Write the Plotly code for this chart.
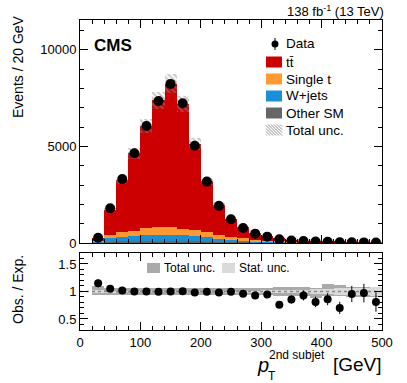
import numpy as np
import plotly.graph_objects as go

# bins of 20 GeV, 20-500
bin_centers = [30, 50, 70, 90, 110, 130, 150, 170, 190, 210, 230, 250,
               270, 290, 310, 330, 350, 370, 390, 410, 430, 450, 470, 490]

data_counts = [270, 1800, 3310, 4650, 6060, 7350, 8240, 7240, 5040, 3180, 1925, 1235,
               775, 485, 330, 190, 130, 104, 73, 62, 40, 42, 33, 21]

other_sm = [15, 60, 80, 90, 100, 110, 110, 100, 90, 80, 60, 45,
            35, 25, 20, 15, 10, 8, 6, 5, 4, 3, 2, 2]
wjets = [55, 185, 231, 273, 299, 325, 325, 299, 273, 231, 168, 131,
         105, 79, 55, 40, 30, 22, 18, 15, 12, 9, 7, 5]
single_t = [40, 155, 259, 259, 363, 394, 394, 347, 295, 243, 187, 135,
            103, 76, 55, 40, 30, 22, 18, 14, 11, 9, 7, 5]
ttbar = [125, 1314, 2675, 4028, 5298, 6558, 7411, 6458, 4485, 2642, 1549, 930,
         564, 342, 219, 155, 82, 60, 48, 38, 30, 23, 18, 14]

# relative uncertainties on the expectation
tot_unc_up = [0.10, 0.07, 0.06, 0.06, 0.06, 0.06, 0.06, 0.06, 0.06, 0.06, 0.06, 0.06,
              0.07, 0.07, 0.07, 0.08, 0.08, 0.08, 0.07, 0.14, 0.11, 0.09, 0.09, 0.09]
tot_unc_dn = [0.07, 0.06, 0.06, 0.06, 0.06, 0.06, 0.06, 0.06, 0.06, 0.06, 0.06, 0.06,
              0.06, 0.07, 0.07, 0.08, 0.08, 0.08, 0.12, 0.09, 0.09, 0.10, 0.10, 0.10]
stat_unc = [0.02, 0.01, 0.005, 0.005, 0.005, 0.005, 0.005, 0.005, 0.005, 0.005, 0.008, 0.01,
            0.012, 0.015, 0.02, 0.025, 0.03, 0.035, 0.04, 0.05, 0.06, 0.07, 0.07, 0.08]

W, H = 407, 383
L, R, T, B = 80, 25, 20, 53
FONT = "Liberation Sans, Arial, sans-serif"

C_TT, C_ST, C_WJ, C_OT = "#cc0000", "#ff9a33", "#1b8fd6", "#666666"
C_TOT, C_STAT, C_HATCH = "#aaaaaa", "#dadada", "#8c8c8c"


def px(x):
    return (x - L) / (W - L - R)


def py(y):
    return 1 - (y - T) / (H - T - B)


x = np.array(bin_centers, dtype=float)
d = np.array(data_counts, dtype=float)
o = np.array(other_sm, dtype=float)
wj = np.array(wjets, dtype=float)
st = np.array(single_t, dtype=float)
tt = np.array(ttbar, dtype=float)
mc = o + wj + st + tt
up = np.array(tot_unc_up)
dn = np.array(tot_unc_dn)
sst = np.array(stat_unc)

fig = go.Figure()

# stacked expectation (explicit bases, overlay mode)
base = np.zeros_like(mc)
for vals, col in [(o, C_OT), (wj, C_WJ), (st, C_ST), (tt, C_TT)]:
    fig.add_trace(go.Bar(x=x, y=vals, base=base.copy(), width=20, showlegend=False,
                         marker=dict(color=col, line=dict(width=0)),
                         xaxis="x", yaxis="y"))
    base = base + vals

fig.add_trace(go.Bar(x=x, y=mc * (up + dn), base=mc * (1 - dn), width=20,
                     showlegend=False, xaxis="x", yaxis="y",
                     marker=dict(color="rgba(0,0,0,0)", line=dict(width=0),
                                 pattern=dict(shape="\\", fgcolor=C_HATCH,
                                              bgcolor="rgba(0,0,0,0)",
                                              size=4, solidity=0.5))))
fig.add_trace(go.Scatter(x=x, y=d, mode="markers", showlegend=False,
                         marker=dict(color="black", size=10),
                         error_y=dict(type="data", array=np.sqrt(d), color="black",
                                      thickness=1, width=0),
                         xaxis="x", yaxis="y"))

# ratio panel
ratio = d / mc
ratio_err = np.sqrt(d) / mc
fig.add_trace(go.Bar(x=x, y=up + dn, base=1 - dn, width=20, showlegend=False,
                     marker=dict(color=C_TOT, line=dict(width=0)),
                     xaxis="x2", yaxis="y2"))
fig.add_trace(go.Bar(x=x, y=2 * sst, base=1 - sst, width=20, showlegend=False,
                     marker=dict(color=C_STAT, line=dict(width=0)),
                     xaxis="x2", yaxis="y2"))
fig.add_trace(go.Scatter(x=[0, 500], y=[1, 1], mode="lines", showlegend=False,
                         line=dict(color="#888888", width=1.5, dash="dot"),
                         xaxis="x2", yaxis="y2"))
fig.add_trace(go.Scatter(x=x, y=ratio, mode="markers", showlegend=False,
                         marker=dict(color="black", size=8),
                         error_y=dict(type="data", array=ratio_err, color="black",
                                      thickness=1, width=0),
                         xaxis="x2", yaxis="y2"))

ax = dict(showline=True, linecolor="black", linewidth=1, mirror="allticks",
          ticks="inside", ticklen=8, tickcolor="black", showgrid=False, zeroline=False,
          tickfont=dict(size=13, color="black"),
          minor=dict(ticks="inside", ticklen=4, tickcolor="black", showgrid=False))

fig.update_layout(
    width=W, height=H, margin=dict(l=L, r=R, t=T, b=B),
    paper_bgcolor="white", plot_bgcolor="white",
    font=dict(family=FONT, color="black"),
    barmode="overlay", bargap=0, showlegend=False,
    xaxis=dict(ax, range=[0, 500], dtick=100, minor=dict(ax["minor"], dtick=20),
               showticklabels=False, anchor="y", matches="x2"),
    yaxis=dict(ax, range=[0, 11550], domain=[0.2806, 1], tickvals=[0, 5000, 10000],
               tickformat="d", minor=dict(ax["minor"], dtick=1000), anchor="x"),
    xaxis2=dict(ax, range=[0, 500], dtick=100, minor=dict(ax["minor"], dtick=20),
                anchor="y2"),
    yaxis2=dict(ax, range=[0.3, 1.7], domain=[0, 0.2484], tickvals=[0.5, 1, 1.5],
                minor=dict(ax["minor"], dtick=0.1), anchor="x2"),
)

shapes = []
ann = []


def swatch(x0, yc, col, w=16, h=11):
    shapes.append(dict(type="rect", xref="paper", yref="paper",
                       x0=px(x0), x1=px(x0 + w), y0=py(yc + h / 2), y1=py(yc - h / 2),
                       fillcolor=col, line=dict(width=0)))


def label(text, x0, yc, size=13.5):
    ann.append(dict(text=text, x=px(x0), y=py(yc), xanchor="left", yanchor="middle",
                    font=dict(size=size)))


# main legend
leg_y = [44, 62, 79, 96, 113, 130]
leg_names = ["Data", "tt\u0304", "Single t", "W+jets", "Other SM", "Total unc."]
shapes.append(dict(type="line", xref="paper", yref="paper", x0=px(275), x1=px(275),
                   y0=py(38), y1=py(50), line=dict(color="black", width=1)))
shapes.append(dict(type="circle", xref="paper", yref="paper", x0=px(271.5), x1=px(278.5),
                   y0=py(47.5), y1=py(40.5), fillcolor="black", line=dict(width=0)))
for yc, col in zip(leg_y[1:5], [C_TT, C_ST, C_WJ, C_OT]):
    swatch(266, yc, col)
# hatched swatch for total unc.
hx0, hy0 = 266, leg_y[5] - 5.5
for k in range(-10, 17, 3):
    xa, ya, xb, yb = hx0 + k, hy0, hx0 + k + 11, hy0 + 11
    if xa < hx0:
        ya, xa = ya + (hx0 - xa), hx0
    if xb > hx0 + 16:
        yb, xb = yb - (xb - hx0 - 16), hx0 + 16
    if xb > xa:
        shapes.append(dict(type="line", xref="paper", yref="paper", x0=px(xa), x1=px(xb),
                           y0=py(ya), y1=py(yb), line=dict(color=C_HATCH, width=1)))
for yc, name in zip(leg_y, leg_names):
    label(name, 284, yc)

# ratio legend
swatch(147, 268, C_TOT, w=13, h=10)
label("Total unc.", 162, 268, 12)
swatch(222, 268, C_STAT, w=13, h=10)
label("Stat. unc.", 237, 268, 12)

ann += [
    dict(text="<b>CMS</b>", x=px(92), y=py(45), xanchor="left", yanchor="middle",
         font=dict(size=17)),
    dict(text="138 fb<sup>-1</sup> (13 TeV)", x=px(386), y=py(11), xanchor="right",
         yanchor="middle", font=dict(size=13)),
    dict(text="Events / 20 GeV", x=px(18), y=py(67), textangle=-90,
         xanchor="center", yanchor="middle", font=dict(size=14)),
    dict(text="Obs. / Exp.", x=px(18), y=py(290), textangle=-90,
         xanchor="center", yanchor="middle", font=dict(size=14)),
    dict(text="<i>p</i>", x=px(263), y=py(365), xanchor="center", yanchor="middle",
         font=dict(size=20)),
    dict(text="2nd subjet", x=px(267), y=py(355), xanchor="left", yanchor="middle",
         font=dict(size=12)),
    dict(text="T", x=px(272), y=py(376), xanchor="center", yanchor="middle",
         font=dict(size=12)),
    dict(text="[GeV]", x=px(384), y=py(365), xanchor="right", yanchor="middle",
         font=dict(size=19)),
]
for a in ann:
    fig.add_annotation(a, xref="paper", yref="paper", showarrow=False)
for s in shapes:
    fig.add_shape(s)

fig.write_html("out.html", config={"displayModeBar": False},
               post_script="document.body.style.margin='0';")
